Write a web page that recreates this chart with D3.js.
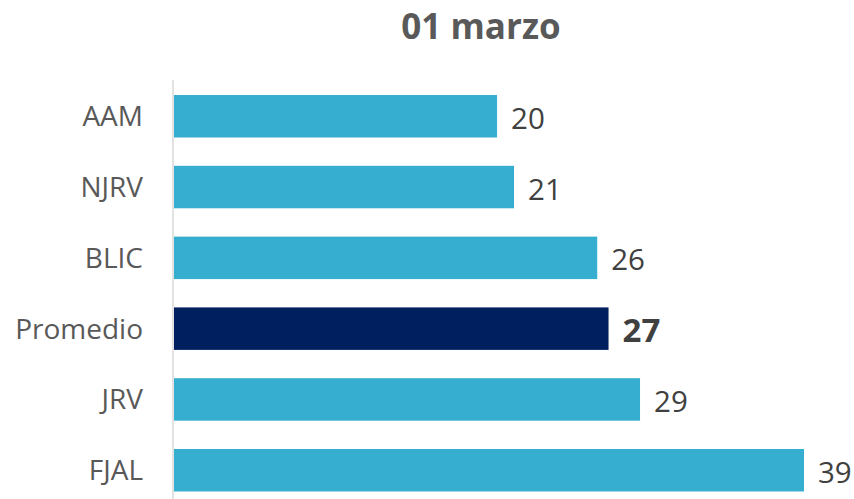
<!DOCTYPE html>
<html>
<head>
<meta charset="utf-8">
<script src="https://cdn.jsdelivr.net/npm/d3@7"></script>
<style>
  html, body { margin: 0; padding: 0; background: #ffffff; }
  svg { display: block; }
</style>
</head>
<body>
<svg id="chart" width="854" height="499"></svg>
<script>
const title = "01 marzo";
const categories = ["AAM", "NJRV", "BLIC", "Promedio", "JRV", "FJAL"];
const values = [20, 21.05, 26.2, 26.9, 28.85, 39];
const highlight = ["Promedio"];

const W = 854, H = 499;
const svg = d3.select("#chart");

const x = d3.scaleLinear().domain([0, 39]).range([174, 804]);
const y = d3.scaleBand().domain(categories).range([66.7, 519.8]).padding(0.4);
const fmt = d3.format(".0f");

const font = "'Open Sans', sans-serif";

// title
svg.append("text")
  .attr("x", 481).attr("y", 38.5)
  .attr("text-anchor", "middle")
  .attr("font-family", font).attr("font-weight", 700).attr("font-size", 35)
  .attr("fill", "#595959")
  .text(title);

const data = categories.map((c, i) => ({ c, v: values[i] }));

// bars
svg.append("g").selectAll("rect").data(data).join("rect")
  .attr("x", x(0))
  .attr("y", d => y(d.c))
  .attr("width", d => x(d.v) - x(0))
  .attr("height", y.bandwidth())
  .attr("fill", d => highlight.includes(d.c) ? "#001F5F" : "#36AECF");

// axis
const axis = d3.axisLeft(y).tickSize(0).tickPadding(30);
const gAxis = svg.append("g").attr("transform", `translate(${x(0) - 1},0)`).call(axis);
gAxis.select(".domain").remove();
gAxis.append("line")
  .attr("x1", 0).attr("x2", 0).attr("y1", 80).attr("y2", H)
  .attr("stroke", "#d9d9d9").attr("stroke-width", 1.5);
gAxis.selectAll(".tick text")
  .attr("font-family", font).attr("font-size", 28)
  .attr("fill", "#595959")
  .attr("dy", null)
  .attr("y", 10)
  .attr("x", -30);

// value labels
svg.append("g").selectAll("text").data(data).join("text")
  .attr("x", d => x(d.v) + 14)
  .attr("y", d => y(d.c) + y.bandwidth() / 2 + (highlight.includes(d.c) ? 13 : 12.5))
  .attr("font-family", font)
  .attr("font-size", d => highlight.includes(d.c) ? 33 : 29.5)
  .attr("font-weight", d => highlight.includes(d.c) ? 700 : 400)
  .attr("fill", "#404040")
  .text(d => fmt(d.v));
</script>
</body>
</html>
